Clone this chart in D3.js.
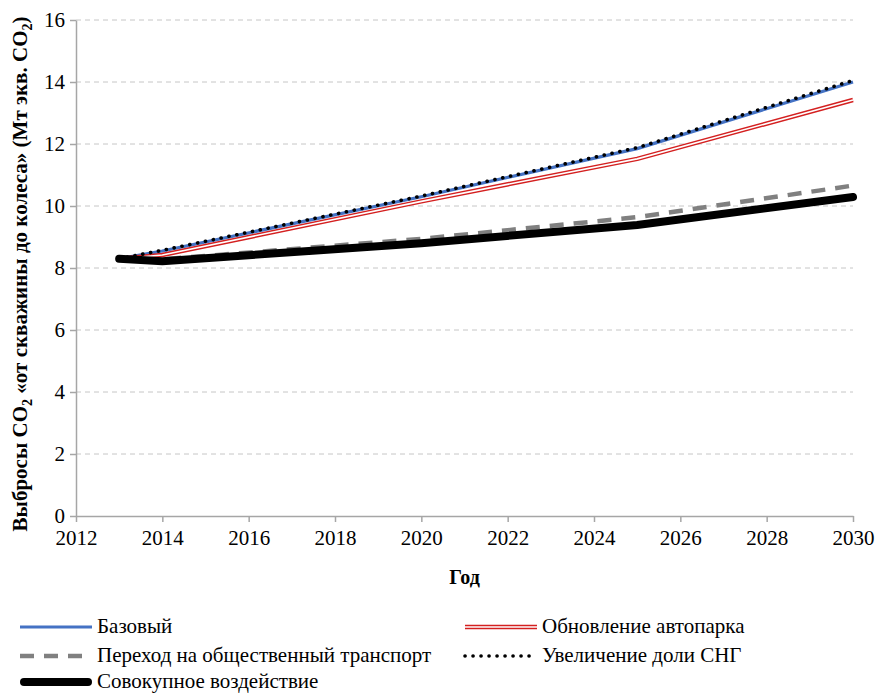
<!DOCTYPE html>
<html>
<head>
<meta charset="utf-8">
<script src="https://cdn.jsdelivr.net/npm/d3@7"></script>
<style>
	body { margin: 0; background: #fff; }
</style>
</head>
<body>
<div id="chart"></div>
<script>
const years = [2013, 2014, 2020, 2025, 2030];
const baseline = [8.3, 8.55, 10.3, 11.85, 14.0];
const fleetRenewal = [8.3, 8.42, 10.15, 11.52, 13.42];
const publicTransport = [8.3, 8.28, 8.94, 9.64, 10.66];
const lngShare = [8.3, 8.57, 10.32, 11.88, 14.05];
const combined = [8.3, 8.22, 8.8, 9.39, 10.29];

const xTicks = d3.range(2012, 2031, 2);
const yTicks = d3.range(0, 17, 2);

const seriesNames = [
	'Базовый',
	'Обновление автопарка',
	'Переход на общественный транспорт',
	'Увеличение доли СНГ',
	'Совокупное воздействие'
];

const FONT = "'Liberation Serif'";

let margin = { top: 20, right: 23, bottom: 177, left: 76 };
let width = 876 - margin.left - margin.right;
let height = 693 - margin.top - margin.bottom;

let svg = d3.select('#chart')
	.append('svg')
		.attr('width', 876)
		.attr('height', 693);

let g = svg.append('g')
	.attr('transform', 'translate(' + margin.left + ',' + margin.top + ')');

let x = d3.scaleLinear().domain([2012, 2030]).range([0, width]);
let y = d3.scaleLinear().domain([0, 16]).range([height, 0]);

// grid
g.append('g')
	.selectAll('line')
	.data(yTicks.filter(d => d > 0))
	.join('line')
		.attr('x1', 0)
		.attr('x2', width)
		.attr('y1', d => y(d))
		.attr('y2', d => y(d))
		.attr('stroke', '#c6c6c6')
		.attr('stroke-width', 1)
		.attr('stroke-dasharray', '5,4');

let xAxis = g.append('g')
	.attr('transform', 'translate(0,' + height + ')')
	.call(d3.axisBottom(x).tickValues(xTicks).tickFormat(d3.format('d')).tickSize(6).tickSizeOuter(0));
let yAxis = g.append('g')
	.call(d3.axisLeft(y).tickValues(yTicks).tickSize(6).tickSizeOuter(0));

[xAxis, yAxis].forEach(a => {
	a.selectAll('path, line').attr('stroke', '#a6a6a6').attr('stroke-width', 1.5);
	a.selectAll('text')
		.attr('fill', '#000')
		.style('font-family', FONT)
		.style('font-size', '21px');
});
xAxis.selectAll('text').attr('dy', '0.95em');
yAxis.selectAll('text').attr('dx', '-0.1em');

// axis titles
g.append('text')
	.attr('x', width / 2)
	.attr('y', height + 68)
	.attr('text-anchor', 'middle')
	.style('font-family', FONT)
	.style('font-size', '20px')
	.style('font-weight', 'bold')
	.text('Год');

let yt = svg.append('text')
	.attr('transform', 'translate(27,' + (margin.top + height / 2 + 6) + ') rotate(-90)')
	.attr('text-anchor', 'middle')
	.style('font-family', FONT)
	.style('font-size', '21px')
	.style('font-weight', 'bold');
yt.append('tspan').text('Выбросы CO');
yt.append('tspan').text('2').attr('dy', 5).style('font-size', '14px');
yt.append('tspan').text(' «от скважины до колеса» (Мт экв. CO').attr('dy', -5);
yt.append('tspan').text('2').attr('dy', 5).style('font-size', '14px');
yt.append('tspan').text(')').attr('dy', -5);

let line = d3.line()
	.x((d, i) => x(years[i]))
	.y(d => y(d));

const styles = [
	{ data: baseline, layers: [{ stroke: '#4472c4', width: 3.2 }] },
	{ data: fleetRenewal, layers: [{ stroke: '#d42020', width: 4.5 }, { stroke: '#ffffff', width: 1.6 }] },
	{ data: publicTransport, layers: [{ stroke: '#808080', width: 4.5, dash: '14,10' }] },
	{ data: lngShare, layers: [{ stroke: '#000000', width: 3.6, dash: '0.1,7.9', cap: 'round' }] },
	{ data: combined, layers: [{ stroke: '#000000', width: 8, cap: 'round' }] }
];

const drawOrder = [0, 1, 2, 4, 3];
drawOrder.forEach(i => {
	const s = styles[i];
	s.layers.forEach(l => {
		g.append('path')
			.attr('d', line(s.data))
			.attr('fill', 'none')
			.attr('stroke', l.stroke)
			.attr('stroke-width', l.width)
			.attr('stroke-dasharray', l.dash || null)
			.attr('stroke-linecap', l.cap || 'butt')
			.attr('stroke-linejoin', 'round');
	});
});

// legend
const legendPos = [
	{ x: 20, y: 627 },
	{ x: 465, y: 627 },
	{ x: 20, y: 656 },
	{ x: 465, y: 656 },
	{ x: 20, y: 682 }
];

seriesNames.forEach((name, i) => {
	const p = legendPos[i];
	const s = styles[i];
	let lg = svg.append('g').attr('transform', 'translate(' + p.x + ',' + p.y + ')');
	s.layers.forEach(l => {
		lg.append('line')
			.attr('x1', i === 4 ? 4 : 0)
			.attr('x2', i === 4 ? 68 : 72)
			.attr('y1', 0).attr('y2', 0)
			.attr('stroke', l.stroke)
			.attr('stroke-width', l.width)
			.attr('stroke-dasharray', l.dash || null)
			.attr('stroke-linecap', l.cap || 'butt');
	});
	lg.append('text')
		.attr('x', 77)
		.attr('y', 0)
		.attr('dy', '0.3em')
		.style('font-family', FONT)
		.style('font-size', '21px')
		.text(name);
});
</script>
</body>
</html>
